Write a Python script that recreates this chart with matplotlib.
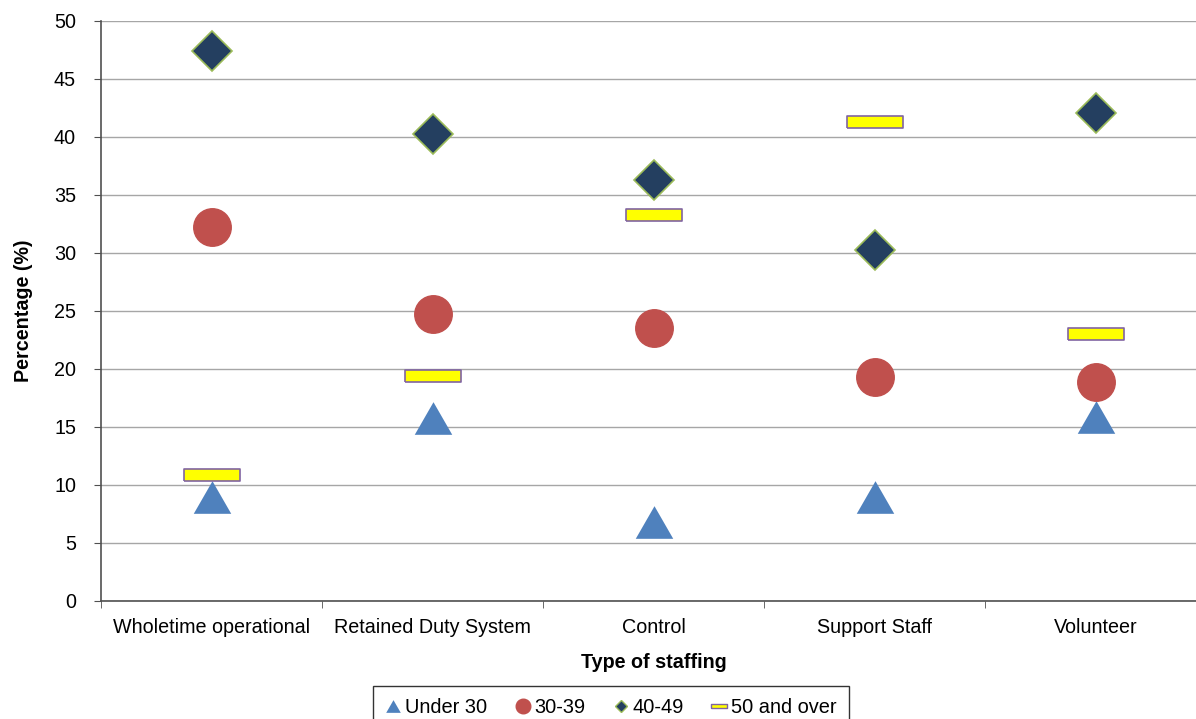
import matplotlib
matplotlib.use('Agg')
import matplotlib.pyplot as plt
from matplotlib.lines import Line2D
import numpy as np

plt.rcParams['font.family'] = ['Liberation Sans', 'DejaVu Sans']

# staffing types and age group shares (%)
categories = ['Wholetime operational', 'Retained Duty System', 'Control', 'Support Staff', 'Volunteer']
under_30 = [9.0, 15.8, 6.8, 9.0, 15.9]
age_30_39 = [32.2, 24.7, 23.5, 19.3, 18.9]
age_40_49 = [47.4, 40.3, 36.3, 30.3, 42.1]
age_50_over = [10.9, 19.4, 33.3, 41.3, 23.0]

# flat bar marker for the 50+ series, slightly squat triangle for under 30
bar_marker = [(-1, -0.21), (1, -0.21), (1, 0.21), (-1, 0.21), (-1, -0.21)]
tri_marker = [(-1, -0.87), (1, -0.87), (0, 0.87), (-1, -0.87)]

fig = plt.figure(figsize=(11.96, 7.19), dpi=100)
ax = fig.add_axes([101 / 1196, 1 - 601 / 719, 1105 / 1196, 580 / 719])

x = np.arange(len(categories))
ax.plot(x, under_30, linestyle='none', marker=tri_marker, ms=27, mfc='#4F81BD', mec='#4F81BD', mew=0, zorder=3)
ax.plot(x, age_30_39, linestyle='none', marker='o', ms=27, mfc='#C0504D', mec='#C0504D', zorder=4)
ax.plot(x, age_40_49, linestyle='none', marker='D', ms=20.5, mfc='#243F60', mec='#9BBB59', mew=1.2, zorder=5)
ax.plot(x, age_50_over, linestyle='none', marker=bar_marker, ms=41, mfc='#FFFF00', mec='#8064A2', mew=1.2, zorder=6)

ax.set_xlim(-0.5, 4.5)
ax.set_ylim(0, 50)
ax.set_yticks(np.arange(0, 51, 5))
ax.set_xticks(x)
ax.set_xticklabels(categories)
ax.set_xticks(np.arange(-0.5, 5, 1), minor=True)
ax.tick_params(axis='x', which='major', length=0, pad=12.5, labelsize=14.2)
ax.tick_params(axis='x', which='minor', length=5, direction='out', color='#505050')
ax.tick_params(axis='y', length=5, direction='out', color='#505050', labelsize=14.2, pad=13)

ax.grid(axis='y', color='#A6A6A6', linewidth=1)
ax.set_axisbelow(True)
for side in ['top', 'right']:
    ax.spines[side].set_visible(False)
for side in ['left', 'bottom']:
    ax.spines[side].set_color('#505050')
    ax.spines[side].set_linewidth(1.2)

ax.set_xlabel('Type of staffing', fontsize=14.2, fontweight='bold')
ax.set_ylabel('Percentage (%)', fontsize=14.2, fontweight='bold')
ax.xaxis.set_label_coords((654 - 101) / 1105, -(662 - 601) / 580)
ax.yaxis.set_label_coords(-(101 - 24) / 1105, 0.5)
ax.xaxis.label.set_va('center')
ax.yaxis.label.set_va('center')

# smaller markers in the legend
handles = [
    Line2D([], [], linestyle='none', marker=tri_marker, ms=10.5, mfc='#4F81BD', mec='#4F81BD', mew=0),
    Line2D([], [], linestyle='none', marker='o', ms=10.5, mfc='#C0504D', mec='#C0504D'),
    Line2D([], [], linestyle='none', marker='D', ms=6.5, mfc='#243F60', mec='#9BBB59'),
    Line2D([], [], linestyle='none', marker=bar_marker, ms=11, mfc='#FFFF00', mec='#8064A2'),
]
labels = ['Under 30', '30-39', '40-49', '50 and over']
leg = fig.legend(handles, labels, loc='upper center', bbox_to_anchor=(611 / 1196, 1 - 686 / 719),
                 ncol=4, fontsize=14.4, frameon=True, fancybox=False, edgecolor='#000000',
                 handlelength=0.8, handletextpad=0.2, columnspacing=1.35, borderpad=0.6,
                 borderaxespad=0)
leg.get_frame().set_linewidth(1)

fig.savefig('out.png', dpi=100)
